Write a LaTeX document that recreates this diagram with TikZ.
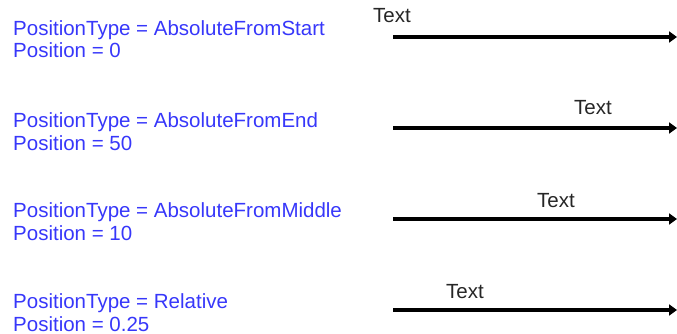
\documentclass[tikz,border=0pt]{standalone}
\usepackage{fontspec}
\setmainfont{Liberation Sans}
\definecolor{proptext}{RGB}{55,55,250}

\tikzset{
  prop/.style={anchor=base west, align=left, text=proptext, inner sep=0pt,
    font=\fontsize{20.5}{22.5}\selectfont},
  lbl/.style={anchor=base, inner sep=0pt, text=black!85,
    font=\fontsize{20.5}{22.5}\selectfont},
  conn/.style={line width=3.2pt, -{Triangle[length=8pt,width=11pt]}}
}
\usetikzlibrary{arrows.meta}

\begin{document}
\begin{tikzpicture}[x=1pt,y=-1pt]
        \useasboundingbox (0,0) rectangle (677,334);

        % base of a two-line node is its last line
        \node[prop] (p1) at (13,58) {PositionType = AbsoluteFromStart\\Position = 0};
        \node[prop] (p2) at (13,150) {PositionType = AbsoluteFromEnd\\Position = 50};
        \node[prop] (p3) at (13,240) {PositionType = AbsoluteFromMiddle\\Position = 10};
        \node[prop] (p4) at (13,331) {PositionType = Relative\\Position = 0.25};

        \coordinate (s1) at (393,37);  \coordinate (e1) at (677,37);
        \coordinate (s2) at (393,128); \coordinate (e2) at (677,128);
        \coordinate (s3) at (393,219); \coordinate (e3) at (677,219);
        \coordinate (s4) at (393,310); \coordinate (e4) at (677,310);

        \draw[conn] (s1) -- (e1);
        \draw[conn] (s2) -- (e2);
        \draw[conn] (s3) -- (e3);
        \draw[conn] (s4) -- (e4);

        \node[lbl] (t1) at (392,23) {Text};
        \node[lbl] (t2) at (593,115) {Text};
        \node[lbl] (t3) at (556,207) {Text};
        \node[lbl] (t4) at (465,298) {Text};
      \end{tikzpicture}
\end{document}
